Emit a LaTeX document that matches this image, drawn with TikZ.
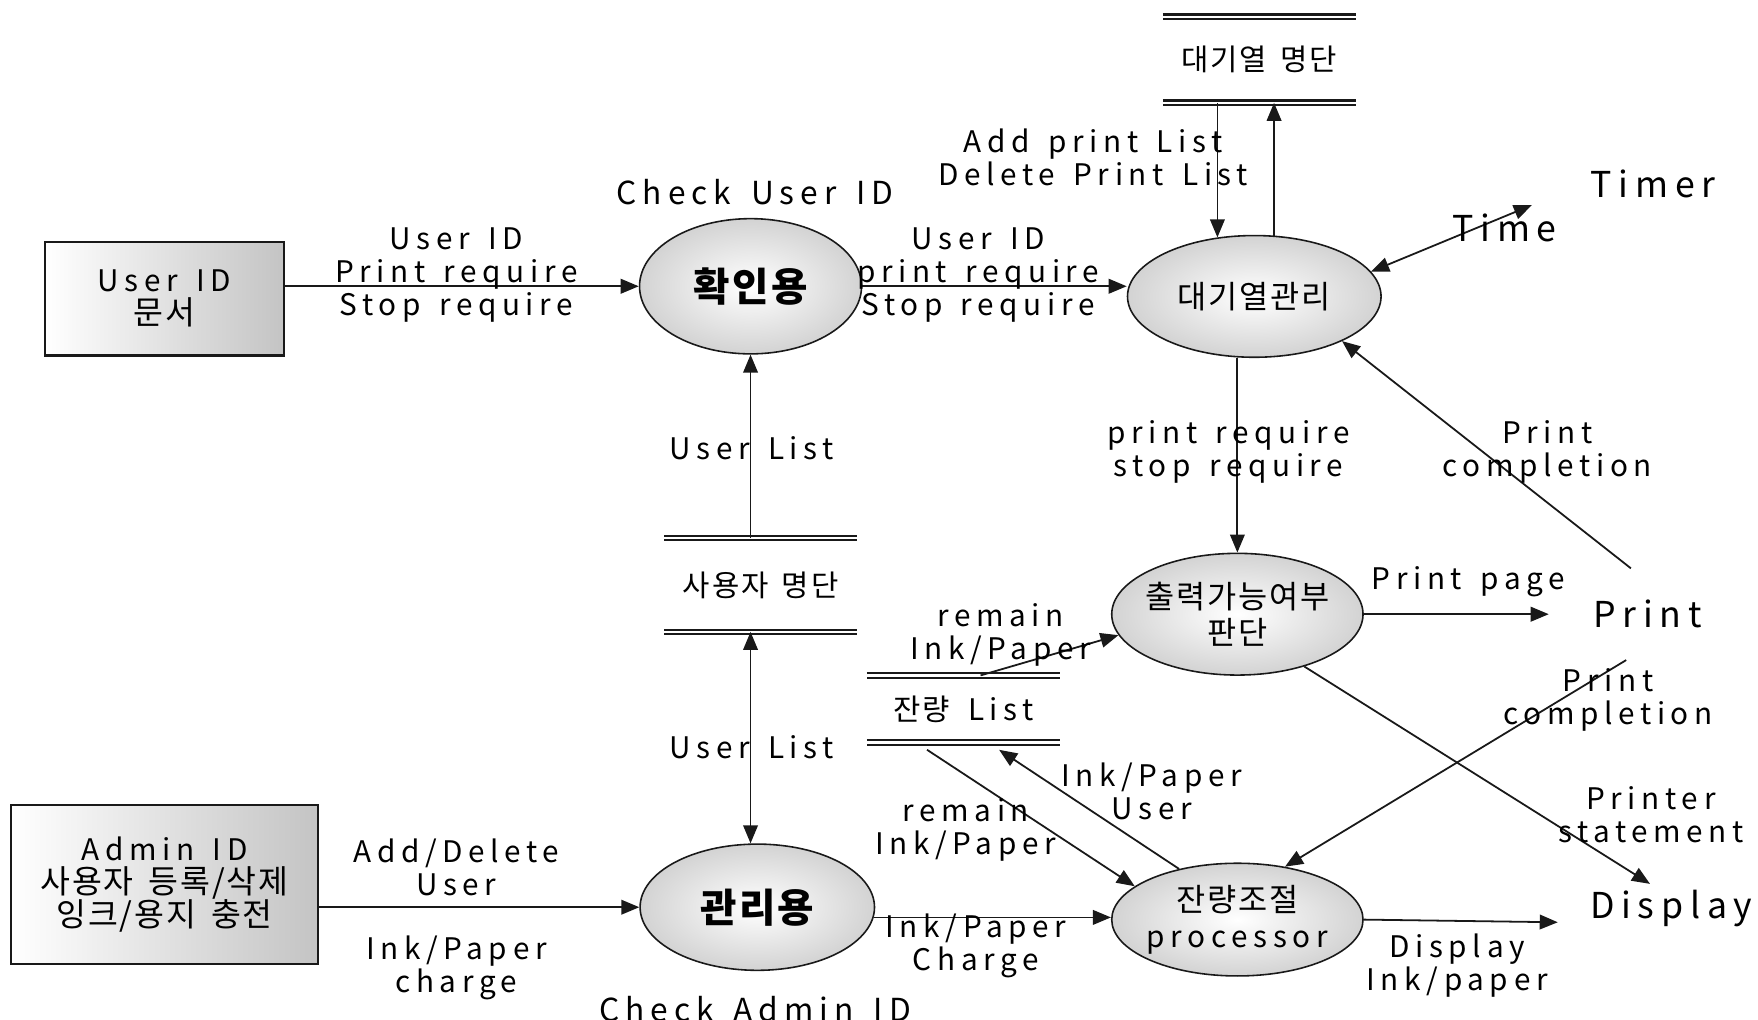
\documentclass[tikz,border=0pt]{standalone}
\usepackage{fontspec}
\setmainfont[LetterSpace=19, WordSpace=1.5]{Noto Sans CJK KR}
\newfontfamily\krfont[LetterSpace=6, WordSpace=1.6]{Noto Sans CJK KR}
\usepackage{tikz}
\usetikzlibrary{shapes.geometric, arrows.meta}
\definecolor{dfdLine}{RGB}{25, 25, 25}
\definecolor{dfdShade}{RGB}{196, 196, 196}
\newcommand{\lblfont}{\fontsize{7.5}{8.3}\selectfont}
\newcommand{\procfont}{\krfont\fontsize{8}{9.2}\selectfont}
\newcommand{\bigprocfont}{\krfont\fontsize{10}{11}\selectfont\bfseries}
\newcommand{\extfont}{\fontsize{9}{10}\selectfont}
\newcommand{\boxkr}{\krfont\fontsize{8.2}{8.3}\selectfont}
\tikzset{
  % external entity boxes
  entbox/.style={
    draw=dfdLine, line width=0.6pt,
    left color=white, right color=dfdShade,
    align=center, font=\lblfont, inner sep=2pt
  },
  % processes
  procnode/.style={
    ellipse, draw=dfdLine, line width=0.4pt,
    inner color=white, outer color=dfdShade!75,
    align=center, font=\procfont,
    inner xsep=-1.5mm, inner ysep=0pt
  },
  % data stores
  storenode/.style={minimum width=1.7cm, inner sep=0pt, font=\lblfont},
  storeline/.style={double, double distance=0.6pt, line width=0.55pt, draw=dfdLine},
  % flows
  flow/.style={-{Triangle[length=1.6mm, width=1.3mm]}, line width=0.45pt, draw=dfdLine},
  biflow/.style={{Triangle[length=1.6mm, width=1.3mm]}-{Triangle[length=1.6mm, width=1.3mm]},
    line width=0.45pt, draw=dfdLine},
  flowlabel/.style={align=center, font=\lblfont, inner sep=0pt},
  extname/.style={font=\extfont, inner sep=0pt}
}
\begin{document}
\begin{tikzpicture}
  \useasboundingbox (0,0) rectangle (15.6,-9.05);
  % entities
  \node[entbox, minimum width=2.12cm, minimum height=1.01cm] (user) at (1.46,-2.65) {User ID\\{\boxkr 문서}};
  \node[entbox, minimum width=2.72cm, minimum height=1.41cm] (admin) at (1.46,-7.85) {Admin ID\\{\boxkr 사용자 등록/삭제}\\{\boxkr 잉크/용지 충전}};
  % processes
  \node[procnode, font=\bigprocfont, minimum width=1.97cm, minimum height=1.2cm] (check) at (6.66,-2.54) {확인용};
  \node[procnode, minimum width=2.25cm, minimum height=1.08cm] (queue) at (11.13,-2.63) {대기열관리};
  \node[procnode, minimum width=2.23cm, minimum height=1.08cm] (judge) at (10.98,-5.45) {출력가능여부\\판단};
  \node[procnode, font=\bigprocfont, minimum width=2.08cm, minimum height=1.12cm] (manage) at (6.72,-8.05) {관리용};
  \node[procnode, minimum width=2.23cm, minimum height=1.0cm] (adjust) at (10.98,-8.16) {잔량조절\\{\rmfamily\lblfont processor}};
  % data stores
  \node[storenode, minimum height=0.75cm] (qlist) at (11.175,-0.53) {{\krfont 대기열 명단}};
  \node[storenode, minimum height=0.82cm] (ulist) at (6.75,-5.19) {{\krfont 사용자 명단}};
  \node[storenode, minimum height=0.58cm] (rlist) at (8.55,-6.29) {{\krfont 잔량} List};
  \foreach \s in {qlist, ulist, rlist} {
    \draw[storeline] (\s.north west) -- (\s.north east);
    \draw[storeline] (\s.south west) -- (\s.south east);
  }
  % sources and sinks
  \node[extname, minimum width=2.14cm, minimum height=0.5cm] (timer) at (14.67,-1.63) {Timer};
  \node[extname, minimum width=1.74cm, minimum height=0.8cm] (print) at (14.62,-5.45) {Print};
  \node[extname, minimum width=2.0cm, minimum height=0.42cm] (display) at (14.83,-8.06) {Display};
  % flows
  \draw[flow] (user.east |- check.west) -- (check.west);
  \draw[flow] (check.east) -- (check.east -| queue.west);
  \draw[flow] (queue.122 |- qlist.south) -- (queue.122);
  \draw[flow] (queue.72) -- (queue.72 |- qlist.south);
  \draw[biflow] (queue.12) -- (timer.190);
  \draw[flow] (queue.south -| judge.north) -- (judge.north);
  \draw[flow] (print.110) -- (queue.-27);
  \draw[flow] (ulist.north -| check.south) -- (check.south);
  \draw[biflow] (ulist.south -| check.south) -- (check.south |- manage.north);
  \draw[flow] (judge.east) -- (print.west);
  \draw[flow] (rlist.63) -- (judge.190);
  \draw[flow] (print.245) -- (adjust.48);
  \draw[flow] (judge.-38) -- (display.131);
  \draw[flow, shorten <=1.2mm] (rlist.215) -- (adjust.162);
  \draw[flow, shorten >=1.2mm] (adjust.139) -- (rlist.-54);
  \draw[flow] (admin.east |- manage.west) -- (manage.west);
  \draw[flow] (manage.-5) -- (manage.-5 -| adjust.west);
  \draw[flow] (adjust.east) -- (display.187);
  % labels
  \node[flowlabel] (lbUserIn) at (4.05,-2.44) {User ID\\Print require\\Stop require};
  \node[flowlabel] (lbUserOut) at (8.68,-2.44) {User ID\\print require\\Stop require};
  \node[flowlabel, font=\fontsize{8}{9}\selectfont] (lbCheckId) at (6.70,-1.70) {Check User ID};
  \node[flowlabel] (lbQueue) at (9.70,-1.40) {Add print List\\Delete Print List};
  \node[flowlabel, font=\extfont] (lbTime) at (13.35,-2.02) {Time};
  \node[flowlabel] (lbReq) at (10.90,-4.01) {print require\\stop require};
  \node[flowlabel] (lbDoneA) at (13.73,-4.01) {Print\\completion};
  \node[flowlabel] (lbUListA) at (6.67,-3.98) {User List};
  \node[flowlabel] (lbPage) at (13.03,-5.16) {Print page};
  \node[flowlabel] (lbRemainA) at (8.88,-5.63) {remain\\Ink/Paper};
  \node[flowlabel] (lbDoneB) at (14.27,-6.21) {Print\\completion};
  \node[flowlabel] (lbState) at (14.65,-7.23) {Printer\\statement};
  \node[flowlabel] (lbUListB) at (6.67,-6.63) {User List};
  \node[flowlabel] (lbInkUser) at (10.22,-7.02) {Ink/Paper\\User};
  \node[flowlabel] (lbRemainB) at (8.57,-7.36) {remain\\Ink/Paper};
  \node[flowlabel] (lbAddDel) at (4.05,-7.70) {Add/Delete\\User};
  \node[flowlabel] (lbChargeA) at (4.05,-8.59) {Ink/Paper\\charge};
  \node[flowlabel] (lbChargeB) at (8.66,-8.39) {Ink/Paper\\Charge};
  \node[flowlabel] (lbDisp) at (12.93,-8.57) {Display\\Ink/paper};
  \node[flowlabel, font=\fontsize{8}{9}\selectfont] (lbAdminId) at (6.70,-8.95) {Check Admin ID};
\end{tikzpicture}
\end{document}
